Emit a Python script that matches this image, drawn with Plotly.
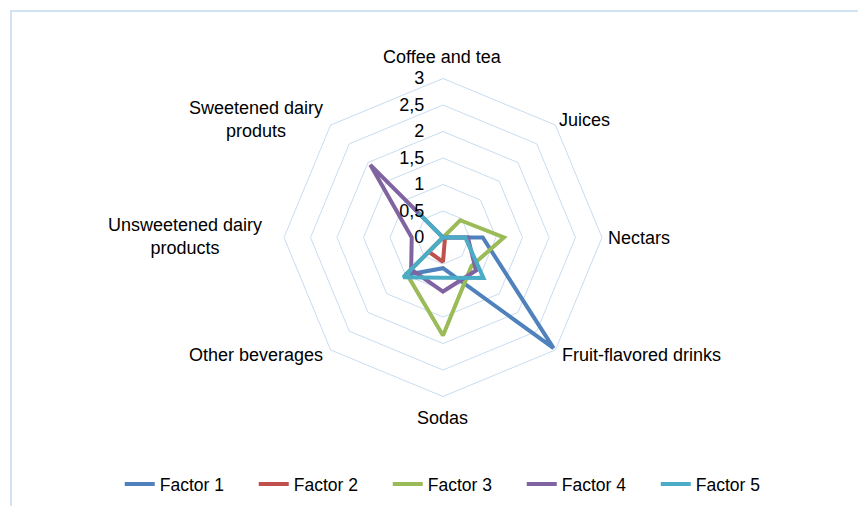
import plotly.graph_objects as go

categories = ["Coffee and tea", "Juices", "Nectars", "Fruit-flavored drinks",
              "Sodas", "Other beverages", "Unsweetened dairy products",
              "Sweetened dairy produts"]
factor1 = [0, 0, 0.75, 2.95, 0.58, 1.00, 0, 0]
factor2 = [0, 0, 0, 0.05, 0.46, 0.38, 0, 0]
factor3 = [0, 0.46, 1.15, 0.76, 1.85, 0.97, 0, 0]
factor4 = [0, 0, 0.47, 0.88, 1.02, 0.85, 0.59, 1.94]
factor5 = [0, 0, 0.42, 1.08, 0.76, 1.06, 0, 0.65]
series_names = ["Factor 1", "Factor 2", "Factor 3", "Factor 4", "Factor 5"]
radial_ticks = [0, 0.5, 1, 1.5, 2, 2.5, 3]

colors = ["#4F81BD", "#C0504D", "#9BBB59", "#8064A2", "#4BACC6"]
W, H = 858, 506
FONT = "Liberation Sans"
GRID = "#C9DCF0"
BORDER = "#D3E2F3"

fig = go.Figure()
for name, vals, col in zip(series_names, [factor1, factor2, factor3, factor4, factor5], colors):
    fig.add_trace(go.Scatterpolar(
        r=vals + vals[:1], theta=categories + categories[:1],
        mode="lines", name=name,
        line=dict(color=col, width=4),
    ))

# polar placement: center (443, 237.5), radius 159 px
cx, cy, R = 443, 237.5, 159
dom_x = [(cx - R) / W, (cx + R) / W]
dom_y = [1 - (cy + R) / H, 1 - (cy - R) / H]

fig.update_layout(
    width=W, height=H,
    margin=dict(l=0, r=0, t=0, b=0),
    paper_bgcolor="white", plot_bgcolor="white",
    separators=", ",
    font=dict(family=FONT, size=18, color="#000000"),
    polar=dict(
        domain=dict(x=dom_x, y=dom_y),
        bgcolor="white",
        gridshape="linear",
        angularaxis=dict(
            type="category", direction="clockwise", rotation=90,
            showgrid=False, showline=True, linecolor=GRID, linewidth=1,
            showticklabels=False, ticks="",
        ),
        radialaxis=dict(
            range=[0, 3], tickvals=radial_ticks, angle=90, tickangle=90,
            side="counterclockwise",
            showline=False, showgrid=True, gridcolor=GRID, gridwidth=1,
            ticks="outside", ticklen=12, tickcolor="rgba(0,0,0,0)",
            tickfont=dict(family=FONT, size=18, color="#000000"),
        ),
    ),
    legend=dict(
        orientation="h", x=0.530, xanchor="center", y=1 - 484 / H, yanchor="middle",
        font=dict(family=FONT, size=17.5, color="#000000"),
        entrywidth=89, entrywidthmode="pixels",
        bgcolor="rgba(0,0,0,0)",
    ),
)

# category labels
labels = [
    ("Coffee and tea", 442, 57),
    ("Juices", 584, 120),
    ("Nectars", 639, 238),
    ("Fruit-flavored drinks", 641, 355),
    ("Sodas", 442, 418),
    ("Other beverages", 256, 355),
    ("Unsweetened dairy<br>products", 185, 237),
    ("Sweetened dairy<br>produts", 256, 120),
]
for txt, x, y in labels:
    fig.add_annotation(text=txt, x=x / W, y=1 - y / H, xref="paper", yref="paper",
                       showarrow=False, xanchor="center", yanchor="middle",
                       font=dict(family=FONT, size=18, color="#000000"))

# chart-area border
fig.add_shape(type="rect", xref="paper", yref="paper",
              x0=11 / W, x1=1.05, y0=-0.05, y1=1 - 11 / H,
              line=dict(color=BORDER, width=2))

fig.write_html("out.html", config={"displayModeBar": False},
               post_script="document.body.style.margin='0';")
